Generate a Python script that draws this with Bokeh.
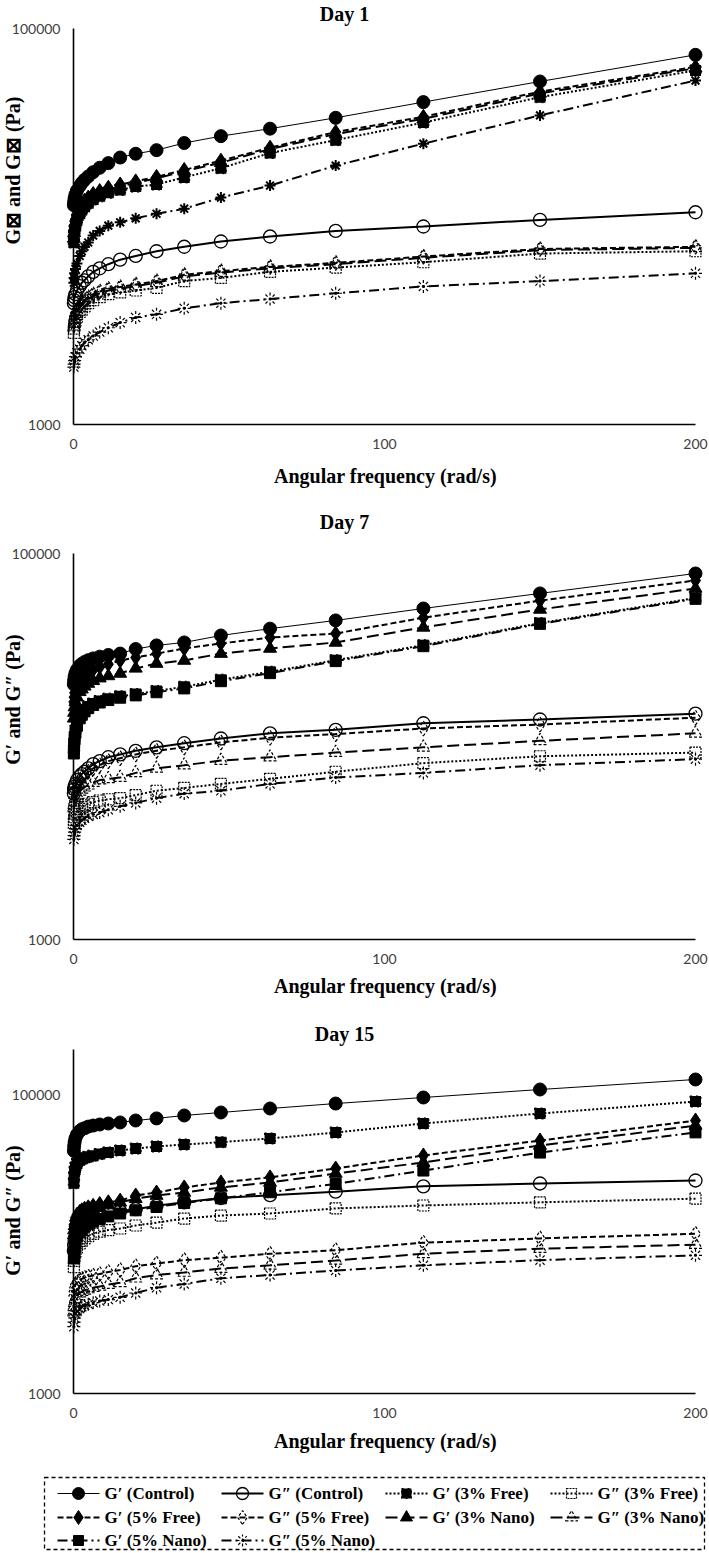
import math
from bokeh.plotting import figure
from bokeh.models import (Range1d, FixedTicker, Label, CustomJSTickFormatter,
                          LogAxis, LinearAxis)
from bokeh.layouts import column
from bokeh.core.properties import value
from bokeh.embed import file_html
from bokeh.resources import INLINE

# ---------------- data ----------------
freq = [0.112, 0.2, 0.356, 0.632, 1.12, 2.0, 2.67, 3.56, 4.74, 6.32, 8.43, 11.2,
        15.0, 20.0, 26.7, 35.6, 47.4, 63.2, 84.3, 112.5, 150.0, 200.0]

series_names = ["G′ (Control)", "G″ (Control)", "G′ (3% Free)", "G″ (3% Free)",
                "G′ (5% Free)", "G″ (5% Free)", "G′ (3% Nano)", "G″ (3% Nano)",
                "G′ (5% Nano)", "G″ (5% Nano)"]

x_ticks = [0, 100, 200]
y_ticks = [1000, 100000]

# Day 1
d1_gp_control = [12800, 13300, 13900, 14500, 15200, 16000, 16600, 17200, 17900, 18800, 19800, 20900, 22300, 23300, 24300, 26400, 28600, 31200, 35400, 42500, 54000, 73600]
d1_gpp_control = [4100, 4250, 4400, 4550, 4750, 5000, 5200, 5350, 5600, 5900, 6150, 6450, 6800, 7100, 7500, 7900, 8400, 8900, 9500, 10000, 10800, 11800]
d1_gp_free3 = [8300, 8900, 9500, 10100, 10800, 11600, 12100, 12600, 13100, 13700, 14200, 14800, 15300, 15900, 16300, 17700, 19700, 23500, 27300, 33500, 45000, 61400]
d1_gpp_free3 = [2900, 3050, 3200, 3350, 3500, 3700, 3800, 3950, 4100, 4250, 4400, 4550, 4650, 4750, 4900, 5300, 5500, 5900, 6200, 6600, 7300, 7500]
d1_gp_free5 = [9000, 9600, 10200, 10900, 11600, 12500, 13000, 13500, 14000, 14600, 15100, 15700, 16300, 16900, 17800, 19300, 21500, 25000, 30000, 35800, 48000, 64000]
d1_gpp_free5 = [3200, 3350, 3500, 3650, 3800, 4000, 4100, 4250, 4400, 4550, 4700, 4850, 4950, 5100, 5300, 5700, 5950, 6250, 6550, 7050, 7700, 7900]
d1_gp_nano3 = [8700, 9300, 9900, 10500, 11200, 12100, 12600, 13100, 13600, 14200, 14700, 15300, 15900, 16600, 17500, 19000, 21000, 24600, 29300, 35000, 47000, 63000]
d1_gpp_nano3 = [3100, 3250, 3400, 3550, 3700, 3900, 4000, 4150, 4300, 4450, 4600, 4750, 4850, 5000, 5200, 5600, 5850, 6150, 6450, 6950, 7600, 7800]
d1_gp_nano5 = [5200, 5500, 5800, 6100, 6500, 7100, 7500, 7900, 8300, 9000, 9500, 10100, 10500, 11000, 11600, 12300, 14000, 16100, 20300, 26200, 36400, 54600]
d1_gpp_nano5 = [1950, 2020, 2100, 2200, 2300, 2400, 2500, 2600, 2680, 2800, 2930, 3080, 3270, 3470, 3600, 3860, 4100, 4300, 4600, 4980, 5300, 5800]

# Day 7
d7_gp_control = [21000, 22000, 23000, 24000, 25000, 26200, 26800, 27400, 28000, 28600, 29200, 29800, 30300, 32000, 33400, 34600, 37600, 40800, 45000, 51900, 62100, 78800]
d7_gpp_control = [5700, 6000, 6200, 6400, 6700, 7000, 7200, 7400, 7700, 8100, 8400, 8800, 9100, 9500, 9900, 10400, 11000, 11700, 12200, 13200, 13800, 14800]
d7_gp_free3 = [9500, 10300, 11200, 12100, 13100, 14300, 14900, 15500, 16100, 16700, 17200, 17700, 18200, 18700, 19400, 20400, 22200, 24400, 28000, 33500, 43600, 58800]
d7_gpp_free3 = [4000, 4150, 4300, 4450, 4600, 4750, 4850, 4950, 5050, 5150, 5250, 5330, 5400, 5600, 5900, 6100, 6400, 6800, 7400, 8200, 8900, 9300]
d7_gp_free5 = [17000, 18000, 19000, 20000, 21000, 22200, 22800, 23500, 24200, 25000, 25800, 26700, 27900, 28900, 30300, 32200, 34200, 36700, 38500, 46500, 57000, 72500]
d7_gpp_free5 = [5400, 5700, 5900, 6100, 6400, 6700, 6900, 7100, 7400, 7700, 8000, 8400, 8700, 9100, 9500, 9900, 10500, 11100, 11600, 12400, 13000, 14100]
d7_gp_nano3 = [14000, 15000, 16000, 17000, 18000, 19200, 19800, 20500, 21200, 21900, 22600, 23200, 23900, 25400, 26900, 27900, 30300, 32200, 34600, 41400, 51300, 65900]
d7_gpp_nano3 = [4800, 5000, 5200, 5400, 5600, 5850, 6000, 6150, 6300, 6500, 6700, 6800, 6900, 7300, 7700, 8000, 8450, 8800, 9300, 9900, 10700, 11700]
d7_gp_nano5 = [9200, 10000, 10900, 11800, 12800, 14000, 14600, 15200, 15800, 16400, 16900, 17400, 17900, 18400, 19100, 20000, 21800, 24000, 27700, 33100, 43200, 58200]
d7_gpp_nano5 = [3300, 3450, 3600, 3750, 3900, 4050, 4150, 4250, 4350, 4450, 4550, 4700, 4900, 5100, 5400, 5700, 5900, 6400, 6900, 7300, 8000, 8600]

# Day 15
d15_gp_control = [42000, 45000, 48000, 51000, 54000, 57000, 58500, 59500, 61000, 62000, 63000, 64000, 65000, 67000, 69200, 72400, 75800, 80600, 87000, 95500, 108000, 126000]
d15_gpp_control = [9000, 9800, 10500, 11200, 11900, 12700, 13200, 13700, 14200, 14800, 15400, 16000, 16600, 17100, 18000, 19000, 20300, 21200, 22400, 24300, 25400, 26600]
d15_gp_free3 = [25500, 28000, 30500, 32500, 34500, 36300, 37000, 37700, 38300, 39000, 40000, 41000, 42200, 43500, 44900, 46300, 48000, 50800, 55700, 64000, 74600, 89800]
d15_gpp_free3 = [7000, 7700, 8300, 8900, 9500, 10100, 10500, 10900, 11300, 11700, 12100, 12400, 12700, 13300, 13900, 14800, 15500, 16000, 17300, 18100, 19000, 20100]
d15_gp_free5 = [12500, 13500, 14300, 15000, 15700, 16400, 16800, 17200, 17600, 18000, 18500, 19000, 19500, 21100, 22100, 23900, 25800, 27900, 32000, 39100, 49200, 67000]
d15_gpp_free5 = [4500, 4800, 5100, 5350, 5550, 5750, 5850, 5950, 6050, 6150, 6300, 6500, 6700, 7100, 7400, 7800, 8100, 8600, 9100, 10200, 10900, 11700]
d15_gp_nano3 = [11500, 12400, 13200, 13900, 14600, 15300, 15700, 16100, 16500, 17000, 17500, 18200, 19000, 20100, 21100, 22100, 23900, 25800, 29600, 35100, 45600, 62000]
d15_gpp_nano3 = [3500, 3800, 4050, 4300, 4500, 4700, 4800, 4900, 5000, 5100, 5200, 5350, 5500, 5900, 6200, 6450, 6850, 7200, 7760, 8600, 9300, 9900]
d15_gp_nano5 = [8000, 8900, 9700, 10500, 11300, 12100, 12600, 13100, 13600, 14100, 14700, 15300, 16000, 16800, 17700, 18800, 20200, 22200, 25200, 31000, 40900, 55800]
d15_gpp_nano5 = [2800, 3000, 3200, 3400, 3550, 3700, 3800, 3880, 3950, 4050, 4150, 4250, 4400, 4700, 5100, 5400, 5900, 6200, 6650, 7200, 7800, 8400]

day1 = [d1_gp_control, d1_gpp_control, d1_gp_free3, d1_gpp_free3, d1_gp_free5,
        d1_gpp_free5, d1_gp_nano3, d1_gpp_nano3, d1_gp_nano5, d1_gpp_nano5]
day7 = [d7_gp_control, d7_gpp_control, d7_gp_free3, d7_gpp_free3, d7_gp_free5,
        d7_gpp_free5, d7_gp_nano3, d7_gpp_nano3, d7_gp_nano5, d7_gpp_nano5]
day15 = [d15_gp_control, d15_gpp_control, d15_gp_free3, d15_gpp_free3, d15_gp_free5,
         d15_gpp_free5, d15_gp_nano3, d15_gpp_nano3, d15_gp_nano5, d15_gpp_nano5]

# ---------------- styles ----------------
styles = [
    dict(marker="circle", fill=True, mdash="solid", ldash="solid", lw=1.0, size=13, mlw=1.0),
    dict(marker="circle", fill=False, mdash="solid", ldash="solid", lw=2.0, size=13, mlw=1.3),
    dict(marker="square", fill=True, mdash="dotted", ldash="2 2", lw=2.0, size=11, mlw=1.0),
    dict(marker="square", fill=False, mdash="2 1", ldash="2 2", lw=2.0, size=11, mlw=1.2),
    dict(marker="diamond", fill=True, mdash="solid", ldash="6 3", lw=2.0, size=15, mlw=1.0),
    dict(marker="diamond", fill=False, mdash="3 2", ldash="6 3", lw=2.0, size=15, mlw=1.2),
    dict(marker="triangle", fill=True, mdash="solid", ldash="12 5", lw=2.0, size=13, mlw=1.0),
    dict(marker="triangle", fill=False, mdash="3 2", ldash="12 5", lw=2.0, size=13, mlw=1.2),
    dict(marker="square", fill=True, mdash="solid", ldash="10 4 2 4", lw=2.0, size=11, mlw=1.0),
    dict(marker="asterisk", fill=False, mdash="3 2", ldash="10 4 2 4", lw=2.0, size=13, mlw=1.2),
]

SERIF = "Liberation Serif"
SANS = "Lato"
W = 709
X0 = 73          # page px of x = 0
XW = 622         # page px spanning x = 0..200
X_LO = -X0 * 200 / XW
X_HI = (W - X0) * 200 / XW


def make_panel(fig_top, fig_h, ax_top, ax_bot, ymax, data, title, title_y,
               ylabel, ylab_y, xt_y, nano5_marker=None):
    k = (math.log10(ymax) - 3.0) / (ax_bot - ax_top)
    log_hi = math.log10(ymax) + (ax_top - fig_top) * k
    log_lo = 3.0 - (fig_top + fig_h - ax_bot) * k
    p = figure(width=W, height=fig_h, y_axis_type="log",
               x_range=Range1d(X_LO, X_HI),
               y_range=Range1d(10 ** log_lo, 10 ** log_hi),
               x_axis_location=None, y_axis_location=None,
               min_border=0, output_backend="svg", toolbar_location=None)
    p.outline_line_color = None
    for g in p.grid:
        g.visible = False

    ya = LogAxis(fixed_location=0, bounds=(1000, ymax),
                 ticker=FixedTicker(ticks=y_ticks),
                 formatter=CustomJSTickFormatter(code="return tick.toFixed(0);"))
    xa = LinearAxis(fixed_location=1000, bounds=(0, 200),
                    ticker=FixedTicker(ticks=x_ticks))
    for ax in (xa, ya):
        ax.axis_line_color = "black"
        ax.axis_line_width = 1.6
        ax.major_tick_line_color = None
        ax.minor_tick_line_color = None
        ax.major_tick_out = 0
        ax.major_tick_in = 0
        ax.minor_tick_out = 0
        ax.minor_tick_in = 0
        ax.major_label_text_font = SANS
        ax.major_label_text_font_size = "14px"
        ax.major_label_text_color = "#404040"
    ya.major_label_standoff = 13
    xa.major_label_standoff = 14
    p.add_layout(ya, "left")
    p.add_layout(xa, "below")

    for i, ys in enumerate(data):
        st = styles[i]
        p.line(freq, ys, line_color="black", line_width=st["lw"], line_dash=st["ldash"])
        mk = st["marker"]
        mlw = st["mlw"]
        if i == 8 and nano5_marker:
            mk = nano5_marker
            mlw = 2.0
        p.scatter(freq, ys, marker=mk, size=st["size"],
                  fill_color="black" if st["fill"] else None,
                  line_color="black", line_width=mlw, line_dash=st["mdash"])

    def lab(text, px, py, size, angle=0.0):
        x = (px - X0) * 200 / XW
        y = 10 ** (log_hi - (py - fig_top) * k)
        p.add_layout(Label(x=x, y=y, text=text, text_font=SERIF,
                           text_font_size=f"{size}px", text_font_style="bold",
                           text_align="center", text_baseline="middle",
                           angle=angle, text_color="black"))

    lab(title, 344, title_y, 20)
    lab(ylabel, 12, ylab_y, 20, angle=math.pi / 2)
    lab("Angular frequency (rad/s)", 385, xt_y, 20)
    return p


p1 = make_panel(0, 500, 28, 424, 100000, day1, "Day 1", 13,
                "G⊠ and G⊠ (Pa)", 170, 475, nano5_marker="asterisk")
p2 = make_panel(500, 512, 553, 939, 100000, day7, "Day 7", 521,
                "G′ and G″ (Pa)", 699, 985)
p3 = make_panel(1012, 454, 1049, 1393, 200000, day15, "Day 15", 1033,
                "G′ and G″ (Pa)", 1210, 1440)

# ---------------- legend ----------------
LT = 1466
LH = 1553 - LT
leg = figure(width=W, height=LH, x_range=Range1d(0, W), y_range=Range1d(LH, 0),
             output_backend="svg", toolbar_location=None, min_border=0,
             x_axis_location=None, y_axis_location=None)
leg.outline_line_color = None
for g in leg.grid:
    g.visible = False
leg.quad(left=[44], right=[704], top=[1477 - LT], bottom=[1549 - LT], fill_color=None,
         line_color="black", line_dash="4 3", line_width=1.3)

col_x = [57, 221, 385, 550]
row_y = [1493 - LT, 1517 - LT, 1540 - LT]
sample_w = 42
for i, name in enumerate(series_names):
    r, c = divmod(i, 4)
    st = styles[i]
    x0 = col_x[c]
    y = row_y[r]
    leg.segment(x0=[x0], y0=[y], x1=[x0 + sample_w], y1=[y], line_color="black",
                line_width=st["lw"], line_dash=st["ldash"])
    leg.scatter([x0 + sample_w / 2], [y], marker=st["marker"], size=st["size"] - 1,
                fill_color="black" if st["fill"] else None, line_color="black",
                line_width=st["mlw"], line_dash=st["mdash"])
    leg.text([x0 + sample_w + 5], [y], text=[name], text_font=value(SERIF),
             text_font_style="bold", text_font_size="17px", text_align="left",
             text_baseline="middle", text_color="black")

layout = column(p1, p2, p3, leg, spacing=0)
open("out.html", "w").write(file_html(layout, INLINE))
